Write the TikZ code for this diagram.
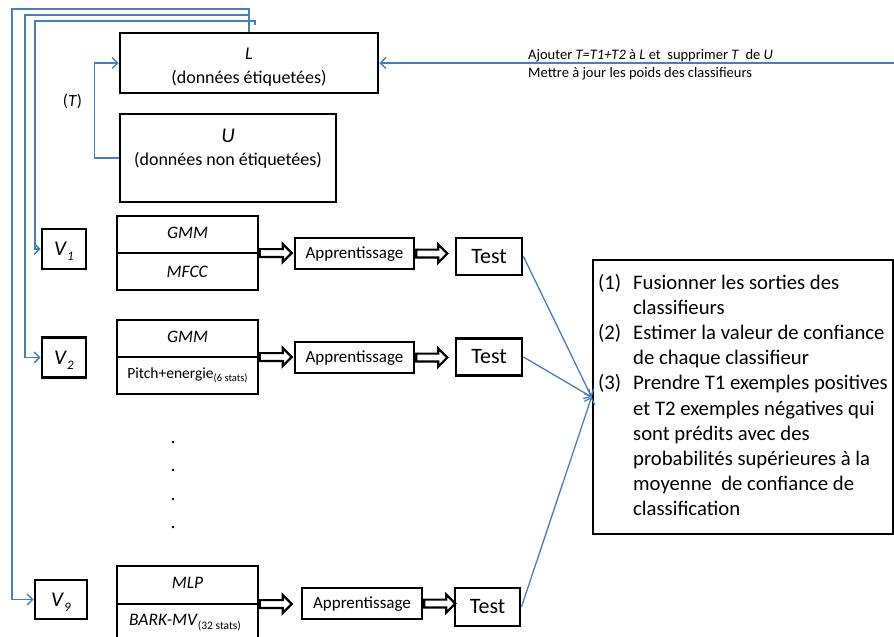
\documentclass[tikz,border=0pt]{standalone}
\usepackage{fontspec}
\setmainfont{Carlito}
\usetikzlibrary{arrows.meta,shapes.arrows}
\definecolor{linkblue}{RGB}{74,126,187}
\newcommand{\fsz}[2]{\fontsize{#1}{#2}\selectfont}
\begin{document}
\begin{tikzpicture}[x=1pt,y=-1pt,
  box/.style={draw, line width=2.9pt, inner sep=0pt},
  featbox/.style={draw, line width=1.3pt, inner sep=0pt, minimum width=141pt},
  txt/.style={inner sep=0pt, anchor=base},
  link/.style={draw=linkblue, line width=1.3pt, -{Straight Barb[length=5.5pt,width=11pt]}},
  trainbox/.style={box, line width=2.4pt, minimum width=119pt, minimum height=31pt,
    font=\fsz{17}{20}, text height=10.7pt, text depth=0pt},
  testbox/.style={box, minimum width=66pt, minimum height=37pt,
    font=\fsz{22}{26}, text height=13.9pt, text depth=0pt},
  viewbox/.style={box, minimum height=40pt, font=\fsz{21}{24}, text height=13.3pt, text depth=0pt},
  blockarrow/.style={single arrow, draw, line width=2.2pt, fill=white,
    inner sep=2.8pt, text height=0pt, text depth=0pt,
    single arrow head extend=5.2pt, single arrow tip angle=90,
    minimum height=32pt, anchor=tail},
]
\useasboundingbox (0,0) rectangle (894,637);

% labelled and unlabelled data sets
\node[box, minimum width=258pt, minimum height=60pt] (L) at (249,63) {};
\node[txt, font=\fsz{18}{22}] (Ltitle) at (249,59) {\textit{L}};
\node[txt, font=\fsz{18}{22}] (Lsub) at (249,83) {(données étiquetées)};

\node[box, minimum width=216pt, minimum height=88pt] (U) at (228,158) {};
\node[txt, font=\fsz{21}{24}] (Utitle) at (228,142) {\textit{U}};
\node[txt, font=\fsz{18}{22}] (Usub) at (228,165) {(données non étiquetées)};

\node[txt, font=\fsz{17}{20}] (Tlab) at (72.5,106) {(\textit{T})};

% update note on the right
\coordinate (rin) at (894,63);
\node[inner sep=0pt, anchor=base west, font=\fsz{14.5}{18.3}] (note) at (528,59) {%
  \begin{tabular}[t]{@{}l@{}}
  Ajouter \textit{T=T1+T2} à \textit{L} et\ \ supprimer \textit{T}\ \ de \textit{U}\\
  Mettre à jour les poids des classifieurs
  \end{tabular}};

% views
\node[viewbox, minimum width=44pt] (V1) at (64,249) {\textit{V}\raisebox{-5pt}{\fsz{13}{13}\textit{1}}};
\node[viewbox, minimum width=44pt] (V2) at (64,357.5) {\textit{V}\raisebox{-5pt}{\fsz{13}{13}\textit{2}}};
\node[viewbox, minimum width=52pt, minimum height=39pt] (V9) at (61,599.5) {\textit{V}\raisebox{-5pt}{\fsz{13}{13}\textit{9}}};

% classifier / feature boxes
\node[featbox, minimum height=74pt] (G1) at (187.5,253) {};
\draw[line width=1.3pt] (G1.west) -- (G1.east);
\node[txt, font=\fsz{17.5}{20}] (G1a) at (187.5,238) {\textit{GMM}};
\node[txt, font=\fsz{17.5}{20}] (G1b) at (187.5,277) {\textit{MFCC}};

\node[featbox, minimum height=74pt] (G2) at (187.5,357) {};
\draw[line width=1.3pt] (G2.west) -- (G2.east);
\node[txt, font=\fsz{17.5}{20}] (G2a) at (187.5,342) {\textit{GMM}};
\node[txt, font=\fsz{15.5}{18}] (G2b) at (187.5,378) {Pitch+energie\raisebox{-3.5pt}{\fsz{10.5}{12}(6 stats)}};

\node[featbox, minimum height=76pt] (G3) at (187.5,604) {};
\draw[line width=1.3pt] (G3.west) -- (G3.east);
\node[txt, font=\fsz{17.5}{20}] (G3a) at (187.5,588) {\textit{MLP}};
\node[txt, font=\fsz{17.5}{20}] (G3b) at (185,625) {\textit{BARK-MV}\raisebox{-4pt}{\fsz{11.5}{13}(32 stats)}};

% continuation dots
\foreach \yy in {442,470,499,527} \fill (173,\yy) circle (1.4pt);

% training and testing
\node[trainbox] (A1) at (354.5,253.5) {Apprentissage};
\node[trainbox] (A2) at (354.5,357.5) {Apprentissage};
\node[trainbox, minimum width=120pt] (A3) at (362,603.5) {Apprentissage};

\node[testbox] (T1) at (489,256.5) {Test};
\node[testbox] (T2) at (489,357) {Test};
\node[testbox, minimum width=65pt, minimum height=38pt] (T3) at (487.5,607) {Test};

\node[blockarrow] (b1) at (G1.east) {};
\node[blockarrow] (b2) at (G2.east) {};
\node[blockarrow] (b3) at (G3.east) {};
\node[blockarrow, minimum height=31pt] (c1) at (A1.east) {};
\node[blockarrow, minimum height=31pt] (c2) at (A2.east) {};
\node[blockarrow, minimum height=31pt] (c3) at (A3.east) {};

% fusion box
\node[box, minimum width=300pt, minimum height=274pt] (S) at (743,397) {};
\node[inner sep=0pt, anchor=base west, font=\fsz{20.7}{25.2}] (Stxt) at (598,289) {%
  \begin{tabular}[t]{@{}p{35pt}@{}l@{}}
  (1) & Fusionner les sorties des\\
      & classifieurs\\
  (2) & Estimer la valeur de confiance\\
      & de chaque classifieur\\
  (3) & Prendre T1 exemples positives\\
      & et T2 exemples négatives qui\\
      & sont prédits avec des\\
      & probabilités supérieures à la\\
      & moyenne\ \ de confiance de\\
      & classification
  \end{tabular}};

% connectors
\draw[link] (T1.east) -- (S.west);
\draw[link] (T2.east) -- (S.west);
\draw[link] (T3.east) -- (S.west);

\draw[link] (rin) -- (L.east);
\draw[link] (U.west) -- ++(-24,0) |- (L.west);

\coordinate (stub) at (255,25);
\draw[link] (L.north) |- (12,9) |- (V9.west);
\draw[link] (L.north) |- (25,15) |- (V2.west);
\draw[link] (stub) |- (35,21) |- (V1.west);
\end{tikzpicture}
\end{document}
